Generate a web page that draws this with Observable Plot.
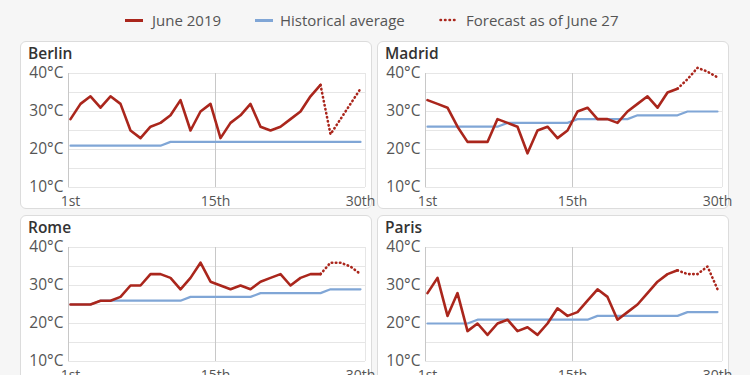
<!DOCTYPE html>
<html>
<head>
<meta charset="utf-8">
<script src="https://cdn.jsdelivr.net/npm/d3@7"></script>
<script src="https://cdn.jsdelivr.net/npm/@observablehq/plot@0.6"></script>
<style>
  html, body { margin: 0; padding: 0; }
  body { width: 750px; height: 375px; background: #f6f6f6; position: relative; overflow: hidden; font-family: "Open Sans", sans-serif; }
  .panel { position: absolute; width: 350px; height: 166px; background: #fff; border: 1px solid #dcdcdc; border-radius: 6px; }
  .panel svg { position: absolute; left: 0; top: 0; }
  .ptitle { position: absolute; left: 7px; top: 3px; font-size: 15.5px; line-height: 16px; font-weight: 600; color: #333; }
  .leg { position: absolute; top: 10px; font-size: 15px; line-height: 20px; color: #555; white-space: nowrap; }
  .sw { position: absolute; top: 19px; height: 0; }
</style>
</head>
<body>
<div id="legend"></div>
<div id="charts"></div>
<script>
const days = [1,2,3,4,5,6,7,8,9,10,11,12,13,14,15,16,17,18,19,20,21,22,23,24,25,26,27,28,29,30];
const actualDays = days.slice(0, 26);
const forecastDays = [26,27,28,29,30];

const cities = ["Berlin", "Madrid", "Rome", "Paris"];
const seriesNames = ["June 2019", "Historical average", "Forecast as of June 27"];

const berlinActual   = [28,32,34,31,34,32,25,23,26,27,29,33,25,30,32,23,27,29,32,26,25,26,28,30,34,37];
const berlinForecast = [37,24,28,32,36];
const berlinAvg      = [21,21,21,21,21,21,21,21,21,21,22,22,22,22,22,22,22,22,22,22,22,22,22,22,22,22,22,22,22,22];

const madridActual   = [33,32,31,26,22,22,22,28,27,26,19,25,26,23,25,30,31,28,28,27,30,32,34,31,35,36];
const madridForecast = [36,38.5,41.5,40.5,39];
const madridAvg      = [26,26,26,26,26,26,26,26,27,27,27,27,27,27,27,28,28,28,28,28,28,29,29,29,29,29,30,30,30,30];

const romeActual     = [25,25,25,26,26,27,30,30,33,33,32,29,32,36,31,30,29,30,29,31,32,33,30,32,33,33];
const romeForecast   = [33,36,36,35,33];
const romeAvg        = [25,25,25,26,26,26,26,26,26,26,26,26,27,27,27,27,27,27,27,28,28,28,28,28,28,28,29,29,29,29];

const parisActual    = [28,32,22,28,18,20,17,20,21,18,19,17,20,24,22,23,26,29,27,21,23,25,28,31,33,34];
const parisForecast  = [34,33,33,35,29];
const parisAvg       = [20,20,20,20,20,21,21,21,21,21,21,21,21,21,21,21,21,22,22,22,22,22,22,22,22,22,23,23,23,23];

const yTicks = [10, 20, 30, 40];
const yGrid = [10, 15, 20, 25, 30, 35, 40];
const xTickValues = [1, 15.5, 30];
const xTickLabels = ["1st", "15th", "30th"];

const RED = "#aa261c";
const BLUE = "#80a6d6";

const cityData = {
  Berlin: [berlinActual, berlinForecast, berlinAvg],
  Madrid: [madridActual, madridForecast, madridAvg],
  Rome:   [romeActual, romeForecast, romeAvg],
  Paris:  [parisActual, parisForecast, parisAvg]
};

const positions = [[20, 41], [377, 41], [20, 215], [377, 215]];

// legend
const legend = document.getElementById("legend");
legend.innerHTML = `
  <div class="sw" style="left:125px;width:18px;border-top:3px solid ${RED};"></div>
  <div class="leg" style="left:152px;">${seriesNames[0]}</div>
  <div class="sw" style="left:255px;width:18px;border-top:3px solid ${BLUE};"></div>
  <div class="leg" style="left:280px;">${seriesNames[1]}</div>
  <svg style="position:absolute;left:439px;top:15px" width="20" height="10"><line x1="1.5" x2="19" y1="5" y2="5" stroke="${RED}" stroke-width="2.5" stroke-linecap="round" stroke-dasharray="0.5,4"/></svg>
  <div class="leg" style="left:466px;">${seriesNames[2]}</div>
`;

const charts = document.getElementById("charts");
cities.forEach((city, i) => {
  const [act, fc, avg] = cityData[city];
  const actual = actualDays.map((d, k) => ({day: d, t: act[k]}));
  const forecast = forecastDays.map((d, k) => ({day: d, t: fc[k]}));
  const average = days.map((d, k) => ({day: d, t: avg[k]}));

  const panel = document.createElement("div");
  panel.className = "panel";
  panel.style.left = positions[i][0] + "px";
  panel.style.top = positions[i][1] + "px";

  const plot = Plot.plot({
    width: 350,
    height: 166,
    marginLeft: 47,
    marginRight: 6,
    marginTop: 31,
    marginBottom: 21,
    style: {fontFamily: "Open Sans", color: "#555", background: "transparent", overflow: "visible"},
    x: {domain: [0.8, 30.5]},
    y: {domain: [10, 40]},
    marks: [
      Plot.ruleY(yGrid, {stroke: "#e6e6e6", strokeWidth: 1}),
      Plot.ruleX([0.8, 15.5], {stroke: "#c8c8c8", strokeWidth: 1}),
      Plot.ruleX([30.5], {stroke: "#e6e6e6", strokeWidth: 1}),
      Plot.axisY({ticks: yTicks, tickSize: 0, tickPadding: 5, tickFormat: d => `${d}°C`, fontSize: 15.5, label: null, fill: "#555"}),
      Plot.axisX({ticks: xTickValues, tickSize: 0, tickPadding: 9, tickFormat: (d, k) => xTickLabels[k], fontSize: 14, label: null, fill: "#555"}),
      Plot.line(average, {x: "day", y: "t", stroke: BLUE, strokeWidth: 2.2}),
      Plot.line(forecast, {x: "day", y: "t", stroke: RED, strokeWidth: 2.6, strokeDasharray: "0.5,3.6", strokeLinecap: "round"}),
      Plot.line(actual, {x: "day", y: "t", stroke: RED, strokeWidth: 2.6, strokeLinejoin: "round"})
    ]
  });
  panel.appendChild(plot);

  const title = document.createElement("div");
  title.className = "ptitle";
  title.textContent = city;
  panel.appendChild(title);

  charts.appendChild(panel);
});
</script>
</body>
</html>
